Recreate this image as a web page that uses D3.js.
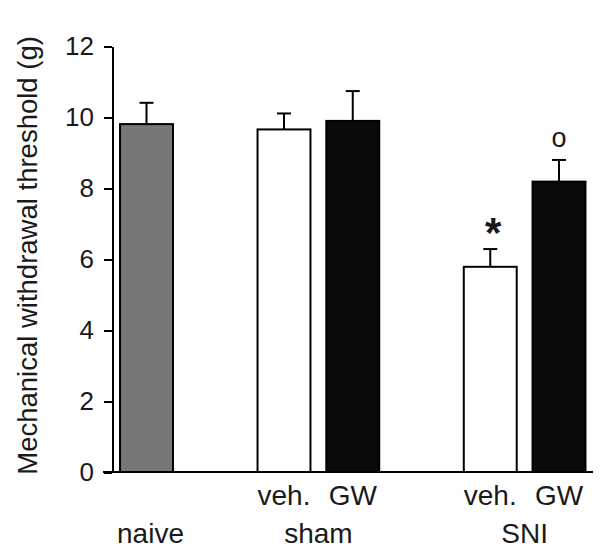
<!doctype html>
<html>
  <meta charset="utf-8">
  <head>
    <script src="https://d3js.org/d3.v7.min.js"></script>
    <style type='text/css'>
      body{ margin:0; background:#fff; }
      text{ font-family:"Liberation Sans", Arial, sans-serif; fill:#1a1a1a; }
      .axis path, .axis line{ stroke:#000; stroke-width:2; shape-rendering:crispEdges; }
      .axis text{ font-size:26px; fill:#1a1a1a; }
    </style>
  </head>
  <body>
    <script type="text/javascript">
      // data
      var groups = ['naive', 'sham', 'SNI'];
      var conditions = ['', 'veh.', 'GW', 'veh.', 'GW'];
      var barGroup = [0, 1, 1, 2, 2];
      var slots = [0, 2, 3, 5, 6];
      var means = [9.8, 9.65, 9.89, 5.78, 8.18];
      var sems = [0.6, 0.45, 0.84, 0.5, 0.61];
      var marks = ['', '', '', '*', 'o'];
      var yTicks = [0, 2, 4, 6, 8, 10, 12];
      var yLabel = 'Mechanical withdrawal threshold (g)';

      var fills = ['#777777', '#ffffff', '#0a0a0a', '#ffffff', '#0a0a0a'];

      var w = 600, h = 557;
      var svg = d3.select('body').append('svg')
        .attr('width', w).attr('height', h);

      var xScale = d3.scaleLinear().domain([0, 6]).range([146.5, 559]);
      var yScale = d3.scaleLinear().domain([0, 12]).range([472, 46]);
      var bw = (xScale(1) - xScale(0)) * 0.77;

      // y axis
      var yAxis = d3.axisLeft(yScale).tickValues(yTicks).tickSize(8)
        .tickPadding(10).tickSizeOuter(0);
      svg.append('g').attr('class', 'axis').attr('id', 'yAxisG')
        .attr('transform', 'translate(112,0)').call(yAxis);

      // x axis baseline
      svg.append('line').attr('class', 'xbase')
        .attr('x1', 103).attr('x2', 593)
        .attr('y1', yScale(0)).attr('y2', yScale(0))
        .attr('stroke', '#000').attr('stroke-width', 2);

      var idx = d3.range(means.length);

      // error bars (drawn first so bars cover the stem base)
      svg.selectAll('line.err').data(idx).enter()
        .append('line').attr('class', 'err')
        .attr('x1', (i)=>xScale(slots[i])).attr('x2', (i)=>xScale(slots[i]))
        .attr('y1', (i)=>yScale(means[i])).attr('y2', (i)=>yScale(means[i] + sems[i]))
        .attr('stroke', '#000').attr('stroke-width', 2);
      svg.selectAll('line.cap').data(idx).enter()
        .append('line').attr('class', 'cap')
        .attr('x1', (i)=>xScale(slots[i]) - 7).attr('x2', (i)=>xScale(slots[i]) + 7)
        .attr('y1', (i)=>yScale(means[i] + sems[i])).attr('y2', (i)=>yScale(means[i] + sems[i]))
        .attr('stroke', '#000').attr('stroke-width', 2);

      // bars
      svg.selectAll('rect.bar').data(idx).enter()
        .append('rect').attr('class', 'bar')
        .attr('x', (i)=>xScale(slots[i]) - bw / 2)
        .attr('width', bw)
        .attr('y', (i)=>yScale(means[i]))
        .attr('height', (i)=>yScale(0) - yScale(means[i]))
        .attr('fill', (i)=>fills[i])
        .attr('stroke', '#000').attr('stroke-width', 2);

      // significance marks
      svg.selectAll('text.mark').data(idx.filter((i)=>marks[i])).enter()
        .append('text').attr('class', 'mark')
        .attr('x', (i)=>xScale(slots[i]) + (marks[i] === '*' ? 3 : 0))
        .attr('y', (i)=>yScale(means[i] + sems[i]) + (marks[i] === '*' ? -2 : -13))
        .attr('text-anchor', 'middle')
        .style('font-size', (i)=>marks[i] === '*' ? '42px' : '27px')
        .style('font-weight', (i)=>marks[i] === '*' ? 'bold' : 'normal')
        .text((i)=>marks[i]);

      // condition labels
      svg.selectAll('text.cond').data(idx.filter((i)=>conditions[i])).enter()
        .append('text').attr('class', 'cond')
        .attr('x', (i)=>xScale(slots[i])).attr('y', 505)
        .attr('text-anchor', 'middle').style('font-size', '28px')
        .text((i)=>conditions[i]);

      // group labels
      svg.selectAll('text.grp').data(groups).enter()
        .append('text').attr('class', 'grp')
        .attr('x', (g, gi)=>{
          var s = slots.filter((v, i)=>barGroup[i] === gi);
          return xScale(d3.mean(s)) + (gi === 0 ? 4 : 0);
        })
        .attr('y', 543)
        .attr('text-anchor', 'middle').style('font-size', '28px')
        .text((g)=>g);

      // y label
      svg.append('text')
        .attr('transform', 'translate(37,' + yScale(6.1) + ') rotate(-90)')
        .attr('text-anchor', 'middle').style('font-size', '27.5px')
        .text(yLabel);
    </script>
  </body>
</html>
